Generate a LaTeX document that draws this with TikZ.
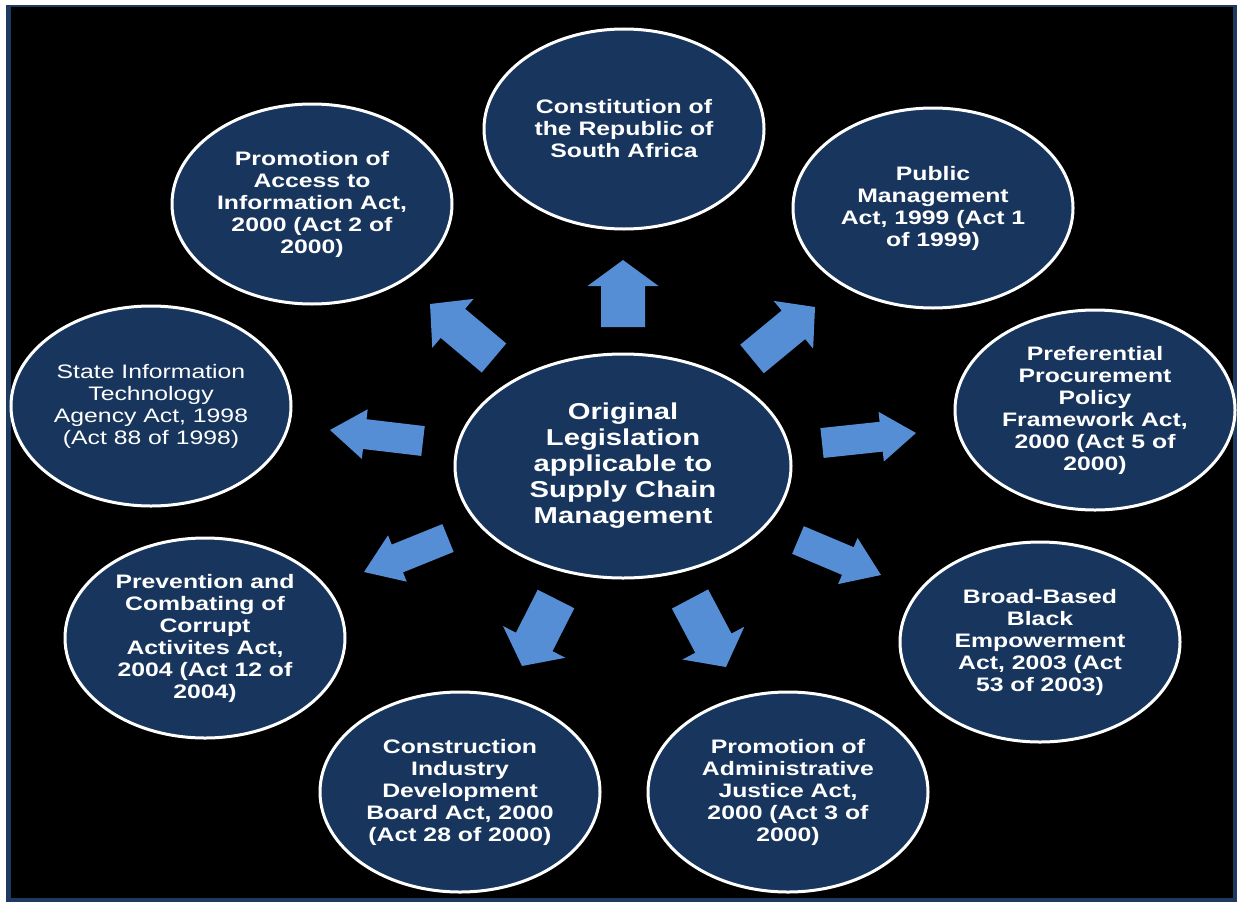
\documentclass[tikz,border=0pt]{standalone}
\usepackage{fontspec}
\setmainfont{Liberation Sans}[FakeStretch=1.27]
\usepackage{tikz}
\usetikzlibrary{shapes.geometric, calc}
\definecolor{navyfill}{RGB}{24,54,93}
\definecolor{framenavy}{RGB}{30,58,98}
\definecolor{arrowblue}{RGB}{85,142,213}

\begin{document}
\begin{tikzpicture}[x=1pt,y=-1pt,
                    act node/.style={ellipse,draw=white,line width=3pt,fill=navyfill,text=white,align=center,
                                     inner sep=0pt,minimum width=280pt,minimum height=200pt,
                                     font=\fontsize{19.5}{22}\selectfont\bfseries},
                    hub node/.style={act node,minimum width=336pt,minimum height=224pt,
                                     font=\fontsize{23}{26}\selectfont\bfseries},
                    block arrow/.style={fill=arrowblue}]

\useasboundingbox (0,0) rectangle (1238,907);
\fill[white] (0,0) rectangle (1238,907);
\fill[framenavy] (6,5) rectangle (1237,902);
\fill[black] (11,7) rectangle (1233,898);

\node[hub node] (Hub) at (623,466) {Original\\Legislation\\applicable to\\Supply Chain\\Management};

\node[act node] (Constitution) at (624,129) {Constitution of\\the Republic of\\South Africa};
\node[act node] (AccessInfo) at (312,204) {Promotion of\\Access to\\Information Act,\\2000 (Act 2 of\\2000)};
\node[act node] (PublicMgmt) at (933,208) {Public\\Management\\Act, 1999 (Act 1\\of 1999)};
\node[act node] (Preferential) at (1095,410) {Preferential\\Procurement\\Policy\\Framework Act,\\2000 (Act 5 of\\2000)};
\node[act node,font=\fontsize{19.5}{22}\selectfont] (StateIT) at (151,406) {State Information\\Technology\\Agency Act, 1998\\(Act 88 of 1998)};
\node[act node] (Prevention) at (205,638) {Prevention and\\Combating of\\Corrupt\\Activites Act,\\2004 (Act 12 of\\2004)};
\node[act node] (Construction) at (460,792) {Construction\\Industry\\Development\\Board Act, 2000\\(Act 28 of 2000)};
\node[act node] (AdminJustice) at (788,792) {Promotion of\\Administrative\\Justice Act,\\2000 (Act 3 of\\2000)};
\node[act node] (BroadBased) at (1040,642) {Broad-Based\\Black\\Empowerment\\Act, 2003 (Act\\53 of 2003)};

% block arrows: tail x/y, tip x/y, shaft width, head width, head length
\foreach \tx/\ty/\hx/\hy/\shaftw/\headw/\headl [count=\i] in
   {623/327/623/260/44/71/26, 494/358/430/304/38/64/30, 752/359/815/307/37/62/28,
    822/443/916/433/30/50/35, 423/441/330/430/30/50/35, 448/538/364/572/30/50/36,
    798/540/881/575/30/50/36, 556/599/522/666/41/70/27, 690/599/726/667/41/70/27}
  {\pgfmathsetmacro{\hs}{\shaftw/2}
   \pgfmathsetmacro{\hh}{\headw/2}
   \coordinate (tail\i) at (\tx,\ty);
   \coordinate (tip\i) at (\hx,\hy);
   \coordinate (base\i) at ($(tip\i)!\headl pt!(tail\i)$);
   \fill[block arrow] ($(tail\i)!\hs pt!90:(tip\i)$) -- ($(base\i)!\hs pt!90:(tip\i)$)
        -- ($(base\i)!\hh pt!90:(tip\i)$) -- (tip\i) -- ($(base\i)!\hh pt!-90:(tip\i)$)
        -- ($(base\i)!\hs pt!-90:(tip\i)$) -- ($(tail\i)!\hs pt!-90:(tip\i)$) -- cycle;}

\end{tikzpicture}
\end{document}
